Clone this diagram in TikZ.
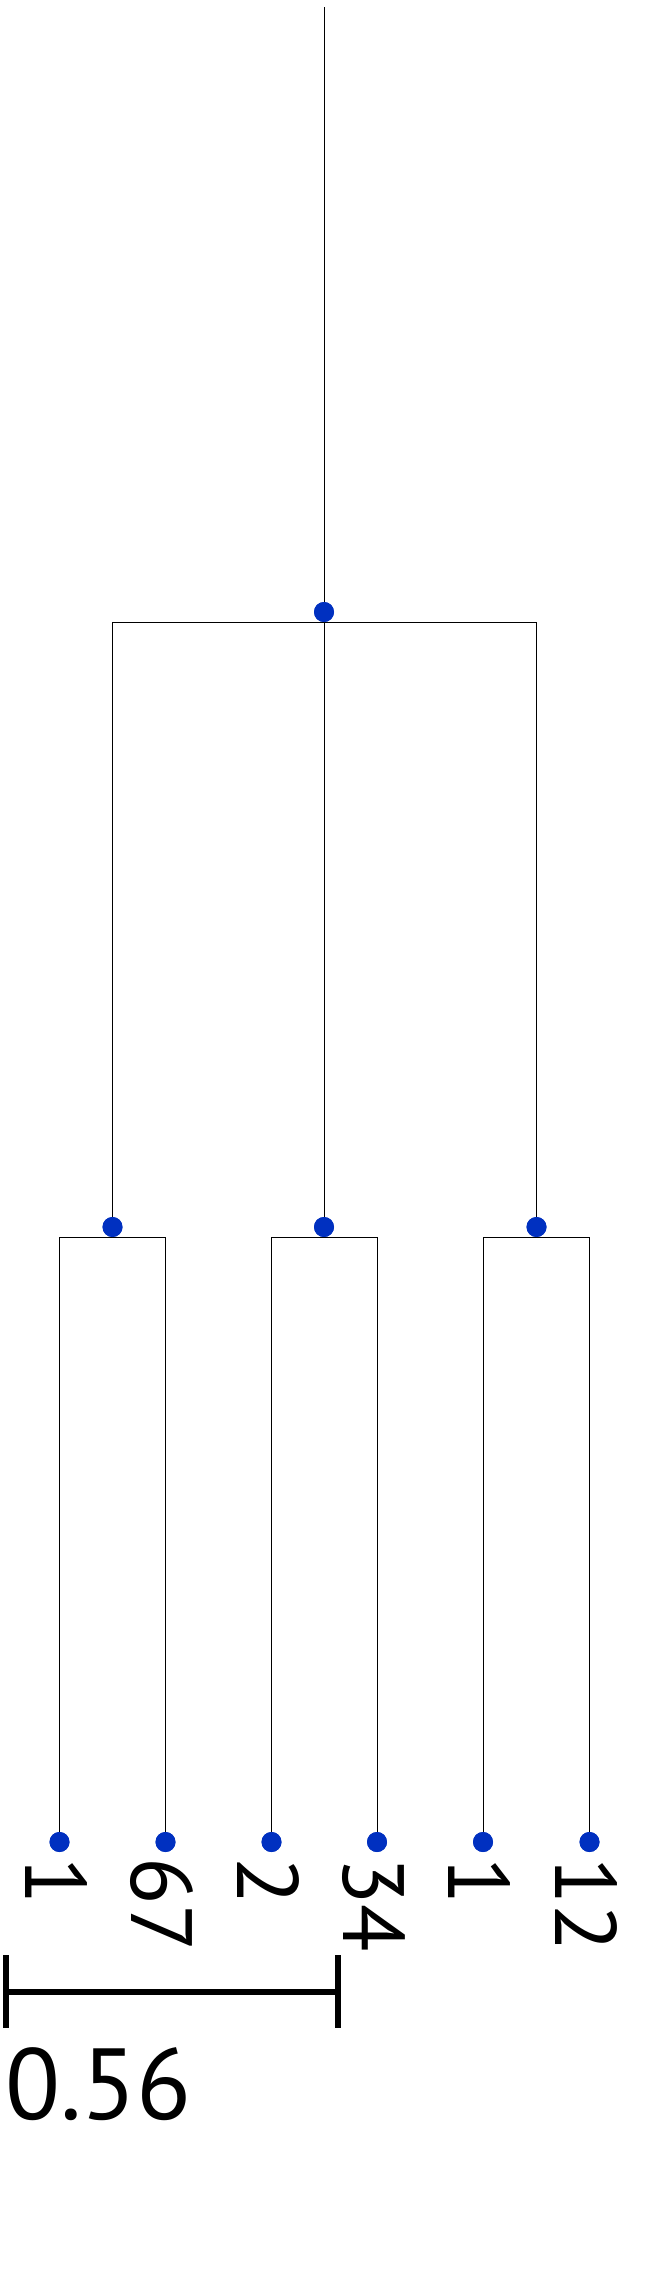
\documentclass[tikz,border=0pt]{standalone}
\usepackage{fontspec}
\setmainfont{PT Sans}
\definecolor{dotblue}{RGB}{0,48,192}
\begin{document}
\begin{tikzpicture}[x=1pt,y=-1pt,
  dot/.style={circle, fill=dotblue, inner sep=0pt, minimum size=20pt},
  br/.style={line width=1pt, black},
  lab/.style={rotate=-90, anchor=west, inner sep=0pt, font=\fontsize{87}{90}\selectfont},
  sbar/.style={line width=6pt, black},
  sclab/.style={anchor=base west, inner sep=0pt, font=\fontsize{101}{104}\selectfont}]
\useasboundingbox[fill=white] (0,0) rectangle (648,2289);
% internal nodes
\node[dot] (r) at (324,612) {};
\node[dot] (m1) at (112.5,1227) {};
\node[dot] (m2) at (324,1227) {};
\node[dot] (m3) at (536.5,1227) {};
% leaves
\node[dot] (l1) at (59.5,1842) {};
\node[dot] (l2) at (165.5,1842) {};
\node[dot] (l3) at (271.5,1842) {};
\node[dot] (l4) at (377,1842) {};
\node[dot] (l5) at (483,1842) {};
\node[dot] (l6) at (589.5,1842) {};
\coordinate (top) at (324,7);
% branches
\begin{scope}[on background layer/.style={}]
\draw[br] (top) -- (r.center);
\draw[br] (m1.center) |- (r.south) -| (m3.center);
\draw[br] (r.center) -- (m2.center);
\draw[br] (l1.center) |- (m1.south) -| (l2.center);
\draw[br] (l3.center) |- (m2.south) -| (l4.center);
\draw[br] (l5.center) |- (m3.south) -| (l6.center);
\end{scope}
% redraw dots on top
\foreach \n in {r,m1,m2,m3,l1,l2,l3,l4,l5,l6} {\fill[dotblue] (\n.center) circle (10pt);}
% labels
\node[lab] (t1) at (56,1857) {1};
\node[lab] (t2) at (162,1857) {67};
\node[lab] (t3) at (268,1857) {2};
\node[lab] (t4) at (373.5,1857) {34};
\node[lab] (t5) at (479.5,1857) {1};
\node[lab] (t6) at (586,1857) {12};
% scale bar
\coordinate (sbL) at (6,1992);
\coordinate (sbR) at (338,1992);
\coordinate (sbLt) at (6,1955);
\coordinate (sbLb) at (6,2028);
\coordinate (sbRt) at (338,1955);
\coordinate (sbRb) at (338,2028);
\draw[sbar] (sbL) -- (sbR);
\draw[sbar] (sbLt) -- (sbLb);
\draw[sbar] (sbRt) -- (sbRb);
\node[sclab] (sc) at (5,2119) {0.56};
\end{tikzpicture}
\end{document}
